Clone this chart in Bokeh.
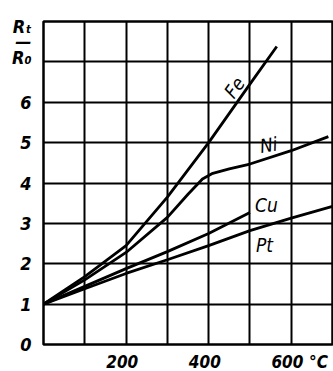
from bokeh.plotting import figure
from bokeh.models import FixedTicker, Label, Range1d
from bokeh.embed import file_html
from bokeh.resources import INLINE

# ---- data ----
temp_ticks = [200, 400, 600]
ratio_ticks = [0, 1, 2, 3, 4, 5, 6]
grid_temps = [0, 100, 200, 300, 400, 500, 600, 700]
grid_ratios = [0, 1, 2, 3, 4, 5, 6, 7, 8]
temp_unit = "\u00b0C"
ratio_title = ["R\u209c", "\u2014", "R\u2080"]

fe_t = [0, 100, 200, 300, 400, 500, 565]
fe_r = [1.0, 1.68, 2.45, 3.65, 5.0, 6.45, 7.38]

ni_t = [0, 100, 200, 300, 350, 385, 410, 450, 500, 600, 690]
ni_r = [1.0, 1.6, 2.28, 3.15, 3.72, 4.1, 4.24, 4.35, 4.47, 4.8, 5.15]

cu_t = [0, 100, 200, 300, 400, 500]
cu_r = [1.0, 1.44, 1.88, 2.3, 2.75, 3.27]

pt_t = [0, 100, 200, 300, 400, 500, 600, 700]
pt_r = [1.0, 1.38, 1.76, 2.1, 2.45, 2.82, 3.13, 3.42]

curve_names = ["Fe", "Ni", "Cu", "Pt"]

FONT = "DejaVu Sans Condensed"

p = figure(frame_width=289, frame_height=323, output_backend="svg", toolbar_location=None,
           x_range=Range1d(0, 700), y_range=Range1d(0, 8),
           min_border_left=43, min_border_right=1, min_border_top=21, min_border_bottom=22)

p.background_fill_color = "white"
p.border_fill_color = "white"
p.outline_line_color = "black"
p.outline_line_width = 2.5

# axis tick positions (extra positions carry the unit and the axis title)
unit_pos = 666
title_pos = [7.88, 7.5, 7.1]
p.xaxis.ticker = FixedTicker(ticks=temp_ticks + [unit_pos])
p.yaxis.ticker = FixedTicker(ticks=ratio_ticks + title_pos)
x_over = {t: f"{t}\u2002" for t in temp_ticks}
x_over[unit_pos] = temp_unit
p.xaxis.major_label_overrides = x_over
p.yaxis.major_label_overrides = {pos: txt for pos, txt in zip(title_pos, ratio_title)}

p.xgrid.ticker = FixedTicker(ticks=grid_temps)
p.ygrid.ticker = FixedTicker(ticks=grid_ratios)
for g in (p.xgrid, p.ygrid):
    g.grid_line_color = "black"
    g.grid_line_width = 2
    g.grid_line_alpha = 1.0

for ax in (p.xaxis, p.yaxis):
    ax.axis_line_color = None
    ax.major_tick_line_color = None
    ax.minor_tick_line_color = None
    ax.major_label_text_font = FONT
    ax.major_label_text_font_style = "bold italic"
    ax.major_label_text_color = "black"
    ax.major_label_text_font_size = "18px"
p.xaxis.major_label_text_font_size = "17px"
p.xaxis.major_label_standoff = 1
p.yaxis.major_label_standoff = 6

lw = 2.8
p.line(fe_t, fe_r, line_color="black", line_width=lw)
p.line(ni_t, ni_r, line_color="black", line_width=lw)
p.line(cu_t, cu_r, line_color="black", line_width=lw)
p.line(pt_t, pt_r, line_color="black", line_width=lw)

def lab(text, x, y, angle=0.0):
    p.add_layout(Label(x=x, y=y, text=text,
                       text_font=FONT, text_font_style="italic",
                       text_font_size="19px", text_color="black",
                       text_align="center", text_baseline="middle", angle=angle))

# curve labels
lab(curve_names[0], 462, 6.37, angle=0.95)
lab(curve_names[1], 545, 4.95, angle=0.15)
lab(curve_names[2], 540, 3.46)
lab(curve_names[3], 535, 2.47)

open("out.html", "w").write(file_html(p, INLINE))
